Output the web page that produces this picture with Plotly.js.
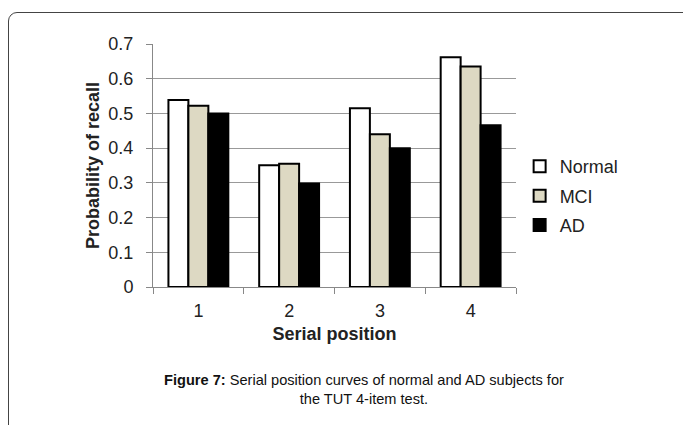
<!DOCTYPE html>
<html>
<head>
<meta charset="utf-8">
<script src="https://cdn.plot.ly/plotly-3.0.1.min.js"></script>
<style>
html,body{margin:0;padding:0;background:#fff;overflow:hidden;}
#frame{position:absolute;left:8px;top:12px;width:720px;height:440px;border:1px solid #444;border-radius:9px;box-sizing:border-box;}
#chart{position:absolute;left:0;top:0;width:683px;height:425px;}
</style>
</head>
<body>
<div id="frame"></div>
<div id="chart"></div>
<script>
const categories = ['1', '2', '3', '4'];
const normalVals = [0.539, 0.351, 0.515, 0.662];
const mciVals = [0.522, 0.355, 0.44, 0.635];
const adVals = [0.50, 0.298, 0.40, 0.466];
const yTicks = [0, 0.1, 0.2, 0.3, 0.4, 0.5, 0.6, 0.7];

const lineStyle = {color: '#000', width: 2};
const traces = [
  {type: 'bar', name: 'Normal', legendgroup: 'a', x: categories, y: normalVals, marker: {color: '#ffffff', line: lineStyle}},
  {type: 'bar', name: 'MCI', legendgroup: 'b', x: categories, y: mciVals, marker: {color: '#ddd9c3', line: lineStyle}},
  {type: 'bar', name: 'AD', legendgroup: 'c', x: categories, y: adVals, marker: {color: '#000000', line: lineStyle}}
];

const layout = {
  width: 683, height: 425,
  paper_bgcolor: 'rgba(0,0,0,0)', plot_bgcolor: 'rgba(0,0,0,0)',
  margin: {l: 153, r: 167, t: 44, b: 138},
  font: {family: 'Liberation Sans, Arial, sans-serif', color: '#222', size: 18},
  barmode: 'group', bargap: 0.34, bargroupgap: 0,
  showlegend: true,
  legend: {x: 1.01, y: 0.374, xanchor: 'left', yanchor: 'middle', font: {size: 18, color: '#222'},
           traceorder: 'grouped', tracegroupgap: 3, itemwidth: 30, bgcolor: 'rgba(0,0,0,0)'},
  xaxis: {
    type: 'category', tickson: 'boundaries', ticks: 'outside', ticklen: 6, tickcolor: '#888',
    showline: true, linecolor: '#888', linewidth: 1, showgrid: false,
    tickfont: {size: 18, color: '#222'}, ticklabelstandoff: 7,
    title: {text: '<b>Serial position</b>', font: {size: 18, color: '#222'}, standoff: 7}
  },
  yaxis: {
    range: [0, 0.7], tickvals: yTicks, ticktext: yTicks.map(v => String(v)),
    ticks: 'outside', ticklen: 6, tickcolor: '#888',
    showline: true, linecolor: '#888', linewidth: 1,
    showgrid: true, gridcolor: '#999', gridwidth: 1, zeroline: false,
    tickfont: {size: 18, color: '#222'}, ticklabelstandoff: 9,
    title: {text: '<b>Probability of recall</b>', font: {size: 18, color: '#222'}, standoff: 4}
  },
  annotations: [
    {xref: 'paper', yref: 'paper', x: 0.58, y: -0.34, xanchor: 'center', yanchor: 'top', showarrow: false,
     text: '<b>Figure 7:</b> Serial position curves of normal and AD subjects for<br>the TUT 4-item test.',
     font: {size: 14.6, color: '#111'}, align: 'center'}
  ]
};

Plotly.newPlot('chart', traces, layout, {displayModeBar: false, staticPlot: true});
</script>
</body>
</html>
